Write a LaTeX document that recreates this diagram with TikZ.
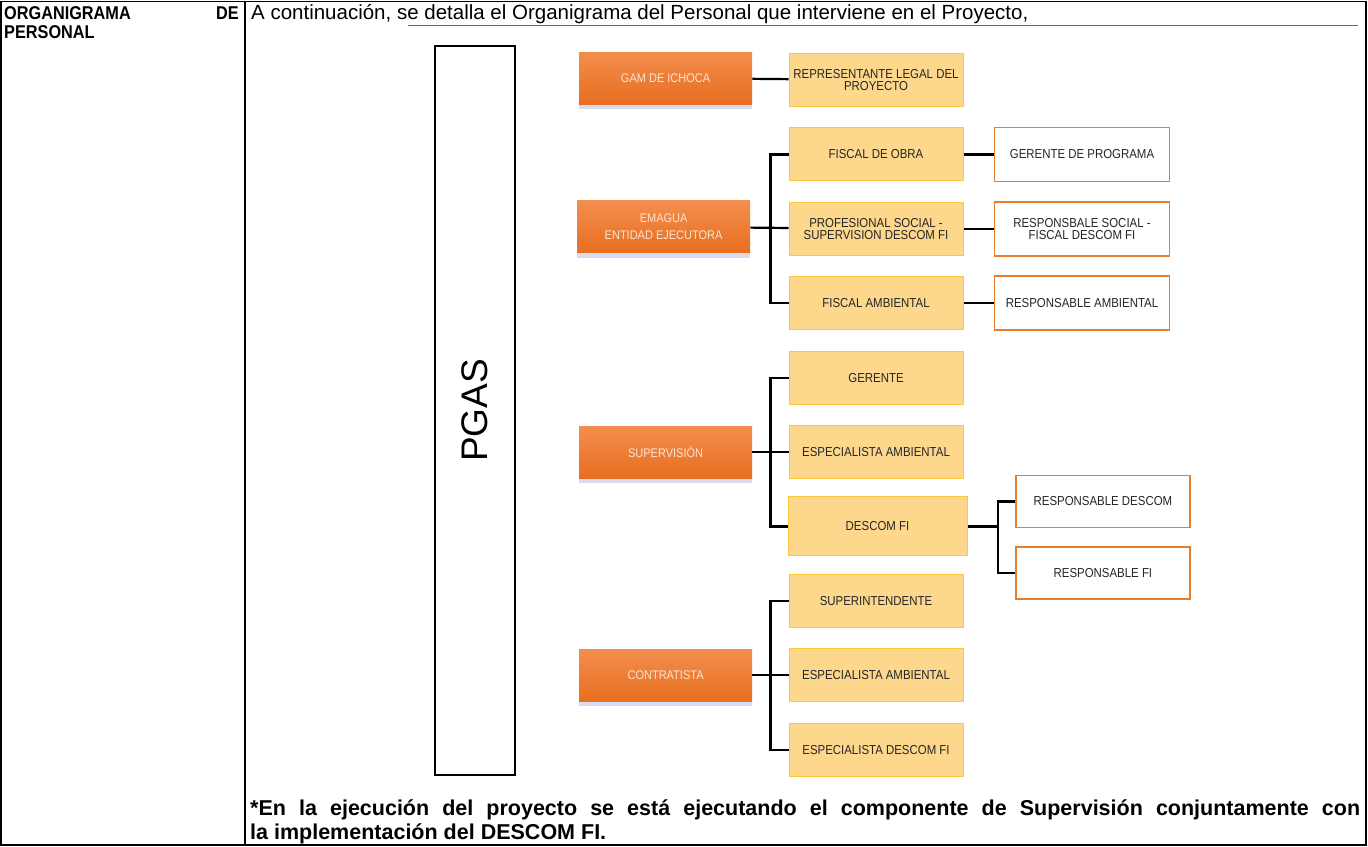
\documentclass[tikz,border=0pt]{standalone}
\usepackage{fontspec}
\setmainfont{Liberation Sans}[FakeStretch=0.88]
\newfontfamily\widefont{Liberation Sans}
\usepackage{tikz}
\usetikzlibrary{positioning, shadows}
\definecolor{orangetop}{RGB}{243,142,78}
\definecolor{orangebot}{RGB}{231,110,32}
\definecolor{peach}{RGB}{252,228,210}
\definecolor{staffyellow}{RGB}{253,215,140}
\definecolor{staffline}{RGB}{250,200,60}
\definecolor{respline}{RGB}{233,125,46}
\tikzstyle{boss} = [rectangle, minimum width=173pt, minimum height=52pt, top color=orangetop, bottom color=orangebot, text=peach, align=center, font=\fontsize{12.5}{13}\selectfont, drop shadow={shadow xshift=0pt, shadow yshift=-5pt, fill=gray!60!blue, opacity=0.2}]
\tikzstyle{staff} = [rectangle, minimum width=174pt, minimum height=53pt, fill=staffyellow, draw=staffline, line width=1pt, align=center, text=black!85, font=\fontsize{13}{12.5}\selectfont]
\tikzstyle{resp} = [rectangle, minimum width=175pt, minimum height=54pt, fill=white, draw=respline, line width=1.8pt, align=center, text=black!85, font=\fontsize{13}{12.5}\selectfont]
\tikzstyle{link} = [line width=2.2pt, black]
\tikzstyle{frame} = [line width=1.4pt, black]
\tikzstyle{cell} = [inner sep=0pt, font=\fontsize{18.5}{22}\selectfont\bfseries]

\begin{document}
\begin{tikzpicture}[x=1pt, y=-1pt, node distance=74.4pt]
\useasboundingbox (0,0) rectangle (1368,846);

% table
\draw [frame] (1,1.5) rectangle (1366,845);
\draw [frame] (245,1.5) -- (245,845);
\node (title) [cell, anchor=base west] at (4,19) {ORGANIGRAMA};
\node (de) [cell, anchor=base east] at (239,19) {DE};
\node (pers) [cell, anchor=base west] at (4,38.5) {PERSONAL};
\node (intro) [cell, anchor=base west, font=\widefont\fontsize{20.5}{22}\selectfont] at (251,19) {A continuación, se detalla el Organigrama del Personal que interviene en el Proyecto,};
\draw [line width=0.8pt, black!60] (408,25) -- (1358,25);

% PGAS column
\node (pgas) [draw, line width=2pt, minimum width=80pt, minimum height=729pt, font=\widefont\fontsize{37}{37}\selectfont] at (475,410.5) {\rotatebox{90}{PGAS}};

% staff column
\node (rep) [staff] at (876,80) {REPRESENTANTE LEGAL DEL\\PROYECTO};
\node (fobra) [staff, below of=rep] {FISCAL DE OBRA};
\node (prof) [staff, below of=fobra] {PROFESIONAL SOCIAL -\\SUPERVISION DESCOM FI};
\node (famb) [staff, below of=prof] {FISCAL AMBIENTAL};
\node (ger) [staff, below of=famb] {GERENTE};
\node (espsup) [staff, below of=ger] {ESPECIALISTA AMBIENTAL};
\node (descom) [staff, below of=espsup, minimum width=179pt, minimum height=59pt, xshift=1.5pt] {DESCOM FI};
\node (supint) [staff, below of=descom, xshift=-1.5pt] {SUPERINTENDENTE};
\node (espcon) [staff, below of=supint] {ESPECIALISTA AMBIENTAL};
\node (espdes) [staff, below of=espcon] {ESPECIALISTA DESCOM FI};

% heads
\node (gam) [boss, left of=rep, xshift=-136pt, yshift=2pt] {GAM DE ICHOCA};
\node (ema) [boss, left of=prof, xshift=-138pt, yshift=2pt] {EMAGUA\\[4pt]ENTIDAD EJECUTORA};
\node (sup) [boss, left of=espsup, xshift=-136pt] {SUPERVISIÓN};
\node (con) [boss, left of=espcon, xshift=-136pt] {CONTRATISTA};

% responsables
\node (gprog) [resp, right of=fobra, xshift=131.6pt] {GERENTE DE PROGRAMA};
\node (rsoc) [resp, right of=prof, xshift=131.6pt] {RESPONSBALE SOCIAL -\\FISCAL DESCOM FI};
\node (ramb) [resp, right of=famb, xshift=131.6pt] {RESPONSABLE AMBIENTAL};
\node (rdes) [resp, right of=descom, xshift=151pt, yshift=25pt, minimum width=174pt, minimum height=52pt] {RESPONSABLE DESCOM};
\node (rfi) [resp, below of=rdes, yshift=3pt, minimum width=174pt, minimum height=52pt] {RESPONSABLE FI};
\coordinate [left=17pt of rdes.west] (fork);

\draw [link] (gam) -- (rep);
\draw [link] (ema) -- (prof);
\draw [link] (fobra.west) -- ++(-18pt,0) |- (famb.west);
\draw [link] (fobra) -- (gprog);
\draw [link] (prof) -- (rsoc);
\draw [link] (famb) -- (ramb);
\draw [link] (sup) -- (espsup);
\draw [link] (ger.west) -- ++(-18pt,0) |- (descom.west);
\draw [link] (con) -- (espcon);
\draw [link] (supint.west) -- ++(-18pt,0) |- (espdes.west);
\draw [link, line width=2.8pt] (descom.east) -- (descom.east -| fork);
\draw [link] (rdes.west) -- (fork) |- (rfi.west);

% note
\node (note) [cell, anchor=north west, text width=1110pt, align=justify, font=\widefont\fontsize{21.5}{24}\selectfont\bfseries] at (250,800) {*En la ejecución del proyecto se está ejecutando el componente de Supervisión conjuntamente con \linebreak la implementación del DESCOM FI.};

\end{tikzpicture}
\end{document}
